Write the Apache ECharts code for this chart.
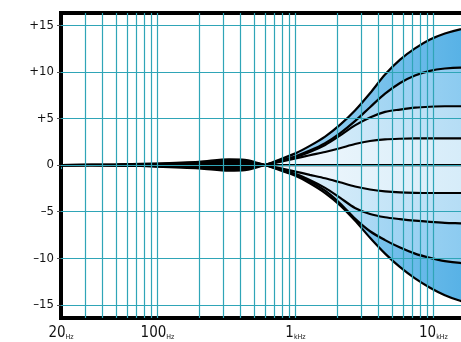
<!DOCTYPE html>
<html>
<head>
<meta charset="utf-8">
<script src="https://cdn.jsdelivr.net/npm/echarts@6/dist/echarts.min.js"></script>
<style>
  html, body { margin: 0; padding: 0; background: #fff; }
  #main { width: 461px; height: 342px; }
</style>
</head>
<body>
<div id="main"></div>
<script>
var freqs = [20, 50, 90, 200, 330, 430, 510, 600, 770, 1000, 1270, 1640, 2100, 2700,
             3470, 4460, 5730, 7350, 9440, 12100, 15600, 20000];

// treble boost curves (dB)
var boost15 = [0, -0.05, -0.15, -0.35, -0.6, -0.55, -0.3, 0, 0.6, 1.25, 2.05, 3.05, 4.3, 5.85, 7.7, 9.7, 11.3, 12.5, 13.45, 14.1, 14.55, 14.85];
var boost10 = [0, -0.04, -0.1, -0.25, -0.45, -0.4, -0.2, 0, 0.45, 0.95, 1.55, 2.35, 3.4, 4.7, 6.2, 7.65, 8.8, 9.6, 10.1, 10.35, 10.45, 10.45];
var boost6  = [0, -0.03, -0.08, -0.18, -0.3, -0.28, -0.15, 0, 0.4, 0.85, 1.4, 2.15, 3.15, 4.25, 5.1, 5.7, 5.95, 6.15, 6.25, 6.3, 6.3, 6.3];
var boost3  = [0, -0.02, -0.05, -0.1, -0.18, -0.16, -0.08, 0, 0.33, 0.7, 1.05, 1.4, 1.8, 2.25, 2.58, 2.75, 2.82, 2.85, 2.85, 2.85, 2.85, 2.85];
var flat    = [0, 0, 0, 0, 0, 0, 0, 0, 0, 0, 0, 0, 0, 0, 0, 0, 0, 0, 0, 0, 0, 0];
// treble cut curves (dB)
var cut3  = [0, 0.02, 0.05, 0.1, 0.18, 0.16, 0.08, 0, -0.33, -0.7, -1.05, -1.42, -1.85, -2.3, -2.62, -2.82, -2.93, -2.98, -3.0, -3.0, -3.0, -3.0];
var cut6  = [0, 0.03, 0.08, 0.18, 0.3, 0.28, 0.15, 0, -0.45, -0.95, -1.6, -2.45, -3.5, -4.6, -5.25, -5.6, -5.8, -5.97, -6.1, -6.2, -6.25, -6.3];
var cut10 = [0, 0.04, 0.1, 0.25, 0.45, 0.4, 0.2, 0, -0.5, -1.05, -1.75, -2.75, -4.1, -5.75, -7.1, -8.05, -8.85, -9.5, -9.95, -10.3, -10.5, -10.55];
var cut15 = [0, 0.05, 0.15, 0.35, 0.6, 0.55, 0.3, 0, -0.55, -1.15, -1.95, -3.0, -4.3, -5.95, -7.8, -9.5, -10.95, -12.15, -13.15, -13.95, -14.55, -14.9];

// grid / ticks
var gridFreqs = [30, 40, 50, 60, 70, 80, 90, 100, 200, 300, 400, 500, 600, 700, 800, 900,
                 1000, 2000, 3000, 4000, 5000, 6000, 7000, 8000, 9000, 10000, 20000];
var dbTicks = [-15, -10, -5, 0, 5, 10, 15];
var freqTicks = [20, 100, 1000, 10000, 20000];

var chart = echarts.init(document.getElementById('main'));

function pairs(arr) {
    return freqs.map(function (f, i) { return [f, arr[i]]; });
}
// bands get deeper towards the treble end
function band(light, deep) {
    return new echarts.graphic.LinearGradient(270, 0, 461, 0, [
        { offset: 0, color: light }, { offset: 1, color: deep }
    ], true);
}

var fillCurves = [
    [boost15, band('#a3d5f3', '#58b2e6')], [boost10, band('#c8e6f8', '#8ccbf0')],
    [boost6, band('#e0f1fb', '#b5ddf5')], [boost3, band('#f3f9fd', '#d6ecf9')],
    [cut15, band('#a3d5f3', '#58b2e6')], [cut10, band('#c8e6f8', '#8ccbf0')],
    [cut6, band('#e0f1fb', '#b5ddf5')], [cut3, band('#f3f9fd', '#d6ecf9')]
];
var lineCurves = [boost15, boost10, boost6, boost3, flat, cut3, cut6, cut10, cut15];

var series = [];
fillCurves.forEach(function (c) {
    series.push({
        type: 'line',
        data: pairs(c[0]),
        smooth: 0.3,
        symbol: 'none',
        silent: true,
        lineStyle: { width: 0, opacity: 0 },
        areaStyle: { color: c[1], opacity: 1 },
        z: 1
    });
});
// grid lines on top of the fills
series.push({
    type: 'line',
    data: [],
    silent: true,
    z: 2,
    markLine: {
        silent: true,
        symbol: 'none',
        label: { show: false },
        animation: false,
        lineStyle: { color: '#2fa5b7', width: 1.2, type: 'solid' },
        data: gridFreqs.map(function (f) { return { xAxis: f }; })
            .concat(dbTicks.map(function (d) { return { yAxis: d }; }))
    }
});
lineCurves.forEach(function (c) {
    series.push({
        type: 'line',
        data: pairs(c),
        smooth: 0.3,
        symbol: 'none',
        silent: true,
        lineStyle: { color: '#000', width: 2.2 },
        z: 3
    });
});

var font = 'Liberation Sans Narrow, DejaVu Sans Condensed, Liberation Sans';
var option = {
    animation: false,
    grid: {
        left: 61, right: -14, top: 13, bottom: 24,
        outerBoundsMode: 'none',
        containLabel: false,
        show: true,
        borderColor: '#000',
        borderWidth: 4,
        backgroundColor: '#fff'
    },
    xAxis: {
        type: 'log',
        logBase: 10,
        min: 20,
        max: 20000,
        axisLine: { show: false },
        splitLine: { show: false },
        minorSplitLine: { show: false },
        axisTick: { show: true, customValues: freqTicks, length: 4, lineStyle: { color: '#2fa5b7' } },
        axisLabel: {
            customValues: freqTicks,
            margin: 8,
            color: '#111',
            fontSize: 15,
            fontFamily: font,
            formatter: function (v) {
                return v >= 1000 ? (v / 1000) + '{u|kHz}' : v + '{u|Hz}';
            },
            rich: {
                u: { fontSize: 7, verticalAlign: 'bottom', color: '#111', fontFamily: font }
            }
        }
    },
    yAxis: {
        type: 'value',
        min: -16.4,
        max: 16.3,
        axisLine: { show: false },
        splitLine: { show: false },
        axisTick: { show: true, customValues: dbTicks, length: 4, lineStyle: { color: '#555' } },
        axisLabel: {
            customValues: dbTicks,
            margin: 7,
            color: '#111',
            fontSize: 13,
            fontFamily: font,
            formatter: function (v) {
                return v > 0 ? '+' + v : (v < 0 ? '\u2013' + (-v) : '0');
            }
        }
    },
    series: series
};
chart.setOption(option);
</script>
</body>
</html>
